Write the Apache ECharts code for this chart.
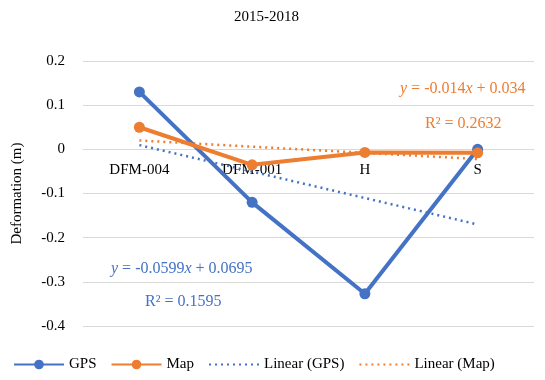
<!DOCTYPE html>
<html>
<head>
<meta charset="utf-8">
<script src="https://cdn.jsdelivr.net/npm/echarts@6/dist/echarts.min.js"></script>
<style>
  html, body { margin: 0; padding: 0; background: #fff; }
  #main { width: 545px; height: 380px; }
</style>
</head>
<body>
<div id="main"></div>
<script>
var categories = ['DFM-004', 'DFM-001', 'H', 'S'];
var gpsData = [0.13, -0.12, -0.327, 0.0];
var mapData = [0.05, -0.035, -0.007, -0.008];
// trend lines
var linGps = [0.0096, -0.0503, -0.1102, -0.1701];
var linMap = [0.020, 0.006, -0.008, -0.022];
var yTicks = { min: -0.4, max: 0.2, interval: 0.1 };

var blue = '#4472C4';
var orange = '#ED7D31';
var font = '"Liberation Serif", "Times New Roman", serif';

var gridTop = 61, gridBottom = 54, chartH = 380;
// move the category axis up to the zero line
var plotH = chartH - gridTop - gridBottom;
var zeroOffset = -plotH * (0 - yTicks.min) / (yTicks.max - yTicks.min);

var myChart = echarts.init(document.getElementById('main'));

var option = {
    backgroundColor: '#fff',
    textStyle: { fontFamily: font },
    animation: false,
    grid: {
        left: 83,
        right: 11,
        top: gridTop,
        bottom: gridBottom
    },
    title: [{
        text: '2015-2018',
        left: 229,
        top: 5,
        textStyle: { fontFamily: font, fontSize: 15, fontWeight: 'normal', color: '#000' }
    }, {
        text: '{i|y} = -0.0599{i|x} + 0.0695',
        left: 106,
        top: 256,
        textStyle: {
            fontFamily: font, fontSize: 16, fontWeight: 'normal', color: blue,
            rich: { i: { fontFamily: font, fontSize: 16, fontStyle: 'italic', color: blue } }
        }
    }, {
        text: 'R² = 0.1595',
        left: 140,
        top: 289,
        textStyle: { fontFamily: font, fontSize: 16, fontWeight: 'normal', color: blue }
    }, {
        text: '{i|y} = -0.014{i|x} + 0.034',
        left: 395,
        top: 76,
        textStyle: {
            fontFamily: font, fontSize: 16, fontWeight: 'normal', color: orange,
            rich: { i: { fontFamily: font, fontSize: 16, fontStyle: 'italic', color: orange } }
        }
    }, {
        text: 'R² = 0.2632',
        left: 420,
        top: 111,
        textStyle: { fontFamily: font, fontSize: 16, fontWeight: 'normal', color: orange }
    }],
    legend: {
        bottom: 3,
        left: 8,
        itemWidth: 50,
        itemHeight: 12,
        itemGap: 14,
        textStyle: { fontFamily: font, fontSize: 15, color: '#000' },
        data: [
            'GPS',
            'Map',
            { name: 'Linear (GPS)', itemStyle: { opacity: 0 } },
            { name: 'Linear (Map)', itemStyle: { opacity: 0 } }
        ]
    },
    xAxis: {
        type: 'category',
        data: categories,
        boundaryGap: true,
        position: 'bottom',
        offset: zeroOffset,
        axisLine: { show: true, onZero: false, lineStyle: { color: '#d9d9d9', width: 1 } },
        axisTick: { show: false },
        axisLabel: { fontFamily: font, fontSize: 15, color: '#000', margin: 13 }
    },
    yAxis: {
        type: 'value',
        min: yTicks.min,
        max: yTicks.max,
        interval: yTicks.interval,
        name: 'Deformation (m)',
        nameLocation: 'middle',
        nameGap: 58,
        nameTextStyle: { fontFamily: font, fontSize: 15, color: '#000' },
        axisLine: { show: false },
        axisTick: { show: false },
        axisLabel: {
            fontFamily: font, fontSize: 15, color: '#000', margin: 18,
            formatter: function (v) { return String(Math.round(v * 10) / 10); }
        },
        splitLine: { lineStyle: { color: '#d9d9d9', width: 1 } }
    },
    series: [{
        name: 'GPS',
        type: 'line',
        data: gpsData,
        symbol: 'circle',
        symbolSize: 11,
        lineStyle: { color: blue, width: 4 },
        itemStyle: { color: blue },
        z: 4
    }, {
        name: 'Map',
        type: 'line',
        data: mapData,
        symbol: 'circle',
        symbolSize: 11,
        lineStyle: { color: orange, width: 4 },
        itemStyle: { color: orange },
        z: 5
    }, {
        name: 'Linear (GPS)',
        type: 'line',
        data: linGps,
        symbol: 'none',
        lineStyle: { color: blue, width: 2.5, type: [2, 4] },
        itemStyle: { color: blue },
        z: 3
    }, {
        name: 'Linear (Map)',
        type: 'line',
        data: linMap,
        symbol: 'none',
        lineStyle: { color: orange, width: 2.5, type: [2, 4] },
        itemStyle: { color: orange },
        z: 3
    }]
};
myChart.setOption(option);
</script>
</body>
</html>
